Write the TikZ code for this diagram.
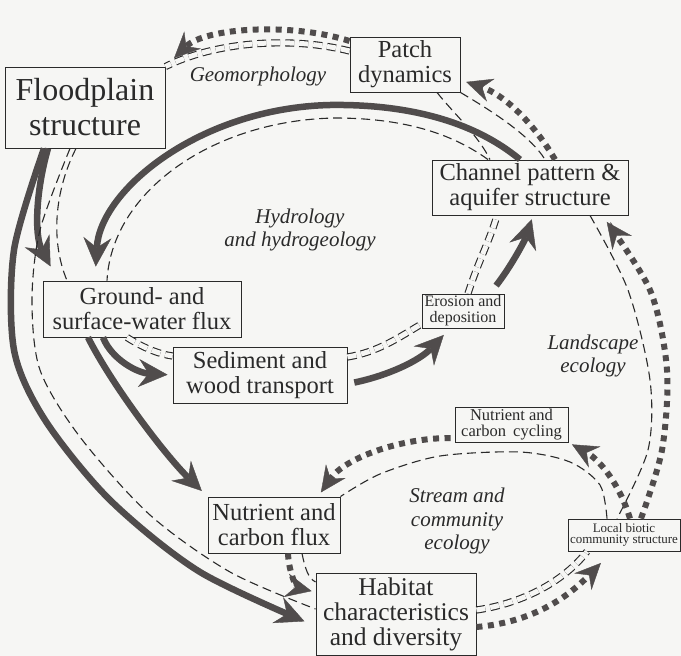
\documentclass[tikz,border=0pt]{standalone}
\usepackage{fontspec}
\setmainfont{Liberation Serif}
\usetikzlibrary{arrows.meta}

\definecolor{paper}{RGB}{246,246,244}
\definecolor{ink}{RGB}{42,42,42}
\definecolor{arrowgray}{RGB}{80,76,76}

\tikzset{
  box/.style={draw=ink, line width=0.9pt, fill=paper, text=ink, align=center, inner sep=0pt},
  bigtext/.style={font=\rmfamily\fontsize{24.5}{25}\selectfont},
  smalltext/.style={font=\rmfamily\fontsize{16}{16}\selectfont},
  fieldname/.style={font=\rmfamily\itshape\fontsize{21}{23.5}\selectfont, text=ink, align=center},
  flow/.style={draw=arrowgray, line width=6.5pt,
    -{Stealth[length=29pt, width=28pt, inset=10pt, line width=0.4pt]}},
  dotflow/.style={draw=arrowgray, line width=6pt, dash pattern=on 6pt off 5.5pt,
    -{Stealth[length=26pt, width=24pt, inset=9pt, line width=0.4pt]}},
  link/.style={draw=ink, line width=1.1pt, dash pattern=on 9pt off 5pt},
  twinlink/.style={link, double=paper, double distance=5pt}
}

\begin{document}
\begin{tikzpicture}[x=1pt, y=-1pt]
\fill[paper] (0,0) rectangle (681,656);
\useasboundingbox (0,0) rectangle (681,656);

% boxes
\node[box, font=\rmfamily\fontsize{32}{35}\selectfont, minimum width=160pt, minimum height=81pt] (flood) at (85,107.5) {Floodplain\\structure};
\node[box, bigtext, minimum width=110pt, minimum height=55pt] (patch) at (405,64.5) {Patch\\dynamics};
\node[box, bigtext, minimum width=196pt, minimum height=55pt] (channel) at (530,187.5) {Channel pattern \&\\aquifer structure};
\node[box, bigtext, minimum width=198pt, minimum height=56pt] (ground) at (142,309) {Ground- and\\surface-water flux};
\node[box, bigtext, minimum width=174pt, minimum height=56pt] (sediment) at (260,375) {Sediment and\\wood transport};
\node[box, smalltext, minimum width=82pt, minimum height=34pt] (erosion) at (463,311) {Erosion and\\deposition};
\node[box, font=\rmfamily\fontsize{16.5}{15.5}\selectfont, minimum width=113pt, minimum height=35pt] (cycling) at (511.5,424.5) {Nutrient and\\carbon\hspace{3pt} cycling};
\node[box, font=\rmfamily\fontsize{13}{11.5}\selectfont, minimum width=112pt, minimum height=32pt] (local) at (624,535) {Local biotic\\community structure};
\node[box, bigtext, minimum width=132pt, minimum height=56pt] (nflux) at (274,525) {Nutrient and\\carbon flux};
\node[box, font=\rmfamily\fontsize{25.5}{25}\selectfont, minimum width=160pt, minimum height=82pt] (habitat) at (396,614) {Habitat\\characteristics\\and diversity};

% field names
\node[fieldname] (geo) at (258,76) {Geomorphology};
\node[fieldname] (hydro) at (300,230) {Hydrology\\and hydrogeology};
\node[fieldname] (land) at (593,356) {Landscape\\ecology};
\node[fieldname] (stream) at (457,521) {Stream and\\community\\ecology};

% geomorphology loop
\draw[twinlink] (patch.west |- 0,51) .. controls (290,36) and (215,42) .. (flood.north east);
\draw[dotflow, shorten >=12pt] (patch.west |- 0,41) .. controls (290,22) and (205,28) .. (flood.north east);
\draw[link] (437,0 |- patch.south) .. controls (455,115) and (478,135) .. (490,0 |- channel.north);
\draw[link] (patch.south east) .. controls (490,110) and (530,135) .. (545,0 |- channel.north);
\draw[dotflow, shorten >=6pt] (555,0 |- channel.north) .. controls (535,125) and (505,95) .. (patch.east |- 0,80);

% hydrology loop
\draw[link] (488,0 |- channel.north) .. controls (450,132) and (400,118) .. (335,118) .. controls (215,120) and (112,190) .. (107,0 |- ground.north);
\draw[flow, shorten >=14pt] (520,0 |- channel.north) .. controls (470,118) and (400,104) .. (330,105) .. controls (200,108) and (100,190) .. (95,0 |- ground.north);
\draw[link] (76,0 |- flood.south) .. controls (55,190) and (50,240) .. (67,0 |- ground.north);
\draw[flow, shorten >=16pt] (48,0 |- flood.south) .. controls (36,190) and (34,235) .. (58,0 |- ground.north);

% floodplain to habitat
\draw[link] plot[smooth] coordinates {(70,0 |- flood.south) (40,230) (32,300) (40,370) (80,437) (150,515) (230,572) (habitat.west |- 0,609)};
\draw[flow, shorten >=12pt] plot[smooth] coordinates {(44,0 |- flood.south) (14,250) (14,350) (45,420) (110,500) (200,572) (habitat.west |- 0,626)};

% sediment path
\draw[twinlink] (127,0 |- ground.south) .. controls (142,347) and (158,354) .. (sediment.west |- 0,356);
\draw[flow, shorten >=5pt] (103,0 |- ground.south) .. controls (112,360) and (138,373) .. (sediment.west |- 0,375);
\draw[flow, shorten >=8pt] (88,0 |- ground.south) .. controls (112,385) and (165,455) .. (nflux.north west);
\draw[twinlink] (sediment.east |- 0,357) .. controls (378,352) and (398,338) .. (erosion.west |- 0,324);
\draw[flow, shorten <=7pt, shorten >=9pt] (sediment.east |- 0,384) .. controls (390,375) and (420,360) .. (450,0 |- erosion.south);
\draw[twinlink] (468,0 |- erosion.north) .. controls (478,262) and (490,240) .. (497,0 |- channel.south);
\draw[flow, shorten <=10pt, shorten >=4pt] (490,0 |- erosion.north) .. controls (512,265) and (525,240) .. (533,0 |- channel.south);

% landscape ecology
\draw[link] plot[smooth] coordinates {(590,0 |- channel.south) (628,290) (650,380) (648,450) (617,0 |- local.north)};
\draw[dotflow, shorten >=8pt] plot[smooth] coordinates {(641,0 |- local.north) (662,450) (667,370) (650,290) (602,0 |- channel.south)};
\draw[dotflow, shorten >=4pt] (630,0 |- local.north) .. controls (620,485) and (600,460) .. (cycling.south east);

% stream and community ecology
\draw[link] plot[smooth] coordinates {(607,0 |- local.north) (600,485) (570,462) (520,452) (440,456) (380,474) (nflux.north east)};
\draw[dotflow, shorten <=4pt, shorten >=5pt] (cycling.west |- 0,438) .. controls (400,438) and (345,458) .. (318,0 |- nflux.north);
\draw[link] (302,0 |- nflux.south) .. controls (305,568) and (308,578) .. (habitat.west |- 0,582);
\draw[dotflow, shorten >=4pt] (288,0 |- nflux.south) .. controls (289,575) and (298,588) .. (habitat.west |- 0,592);
\draw[twinlink] (habitat.east |- 0,610) .. controls (525,603) and (565,580) .. (587,0 |- local.south);
\draw[dotflow, shorten >=16pt] (habitat.east |- 0,627) .. controls (535,622) and (570,595) .. (612,0 |- local.south);
\end{tikzpicture}
\end{document}
